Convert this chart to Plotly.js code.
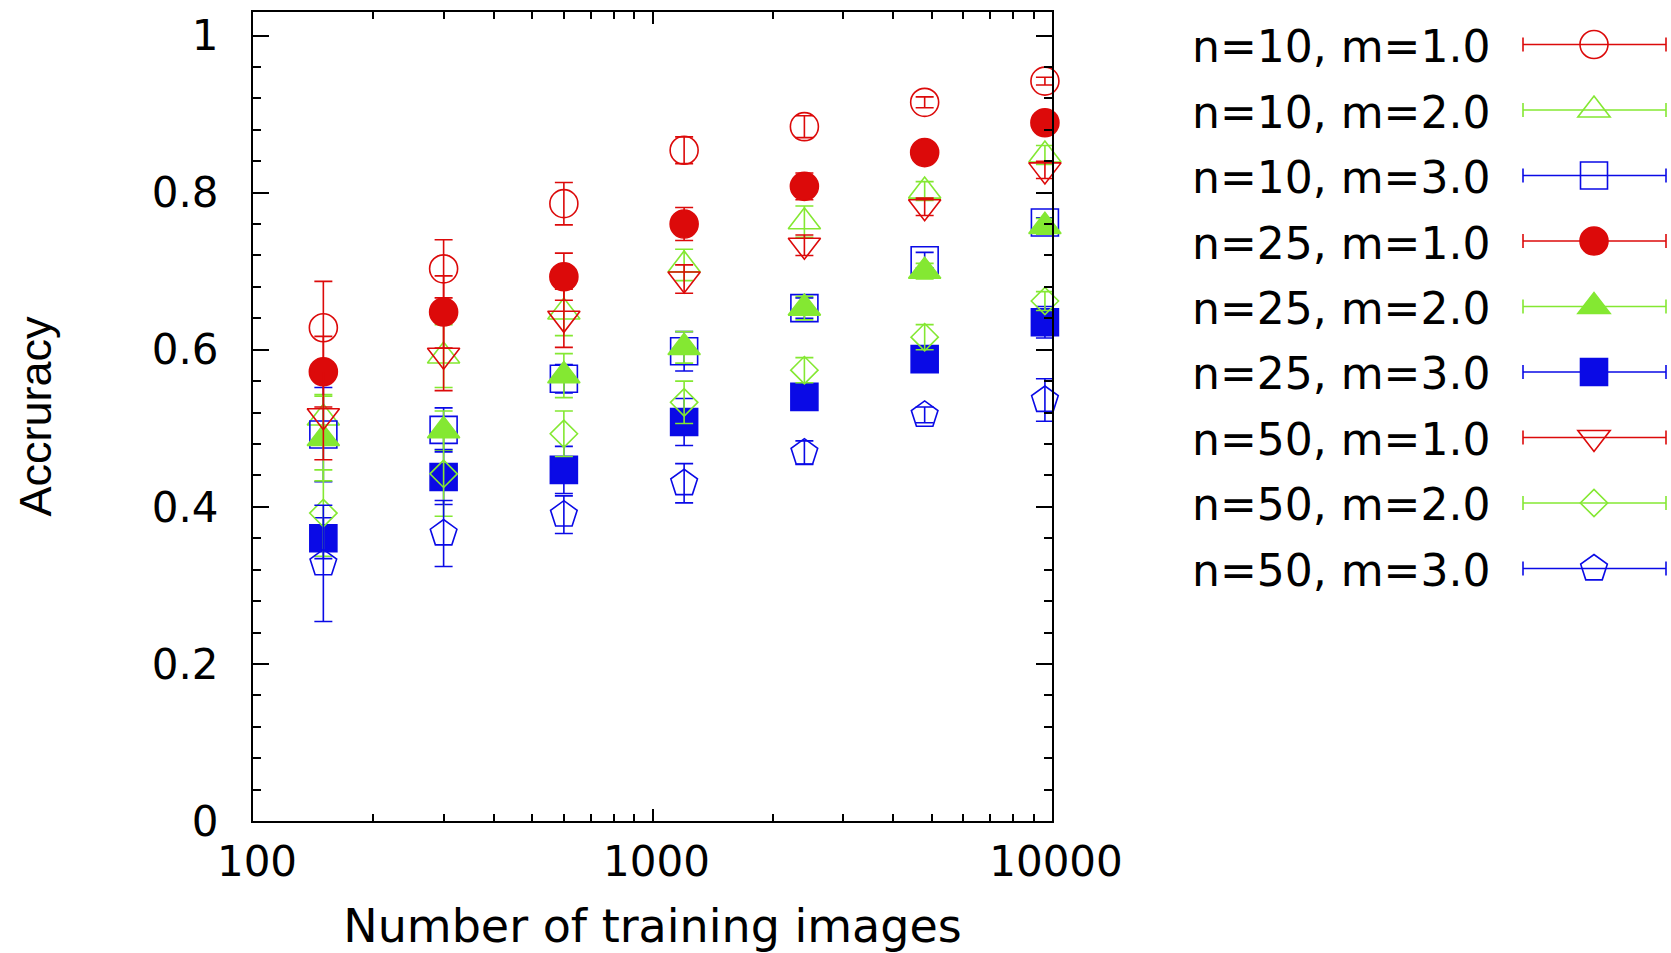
<!DOCTYPE html>
<html>
<head>
<meta charset="utf-8">
<script src="https://cdn.plot.ly/plotly-3.0.1.min.js"></script>
<style>
  html, body { margin: 0; padding: 0; background: #ffffff; }
  #chart { width: 1671px; height: 953px; }
</style>
</head>
<body>
<div id="chart"></div>
<script>
// ---------------- data ----------------
const trainingImages = [150, 300, 600, 1200, 2400, 4800, 9600];

const seriesNames = [
  'n=10, m=1.0', 'n=10, m=2.0', 'n=10, m=3.0',
  'n=25, m=1.0', 'n=25, m=2.0', 'n=25, m=3.0',
  'n=50, m=1.0', 'n=50, m=2.0', 'n=50, m=3.0'
];

const acc_n10_m1 = [0.628, 0.703, 0.786, 0.854, 0.884, 0.915, 0.942];
const err_n10_m1 = [0.059, 0.037, 0.027, 0.017, 0.014, 0.007, 0.005];

const acc_n10_m2 = [0.513, 0.592, 0.648, 0.708, 0.763, 0.802, 0.848];
const err_n10_m2 = [0.030, 0.040, 0.030, 0.020, 0.020, 0.012, 0.012];

const acc_n10_m3 = [0.492, 0.498, 0.563, 0.598, 0.653, 0.714, 0.762];
const err_n10_m3 = [0.060, 0.028, 0.018, 0.025, 0.013, 0.010, 0.006];

const acc_n25_m1 = [0.572, 0.648, 0.693, 0.760, 0.808, 0.851, 0.889];
const err_n25_m1 = [0.045, 0.046, 0.030, 0.021, 0.017, 0.010, 0.008];

const acc_n25_m2 = [0.487, 0.497, 0.567, 0.603, 0.653, 0.700, 0.757];
const err_n25_m2 = [0.054, 0.025, 0.028, 0.020, 0.015, 0.010, 0.010];

const acc_n25_m3 = [0.360, 0.438, 0.447, 0.508, 0.540, 0.588, 0.635];
const err_n25_m3 = [0.026, 0.035, 0.030, 0.030, 0.015, 0.010, 0.020];

const acc_n50_m1 = [0.516, 0.593, 0.640, 0.690, 0.733, 0.782, 0.829];
const err_n50_m1 = [0.056, 0.045, 0.037, 0.018, 0.013, 0.011, 0.011];

const acc_n50_m2 = [0.392, 0.442, 0.493, 0.533, 0.574, 0.616, 0.662];
const err_n50_m2 = [0.055, 0.054, 0.029, 0.027, 0.016, 0.016, 0.012];

const acc_n50_m3 = [0.328, 0.366, 0.390, 0.430, 0.469, 0.517, 0.536];
const err_n50_m3 = [0.074, 0.042, 0.024, 0.025, 0.015, 0.010, 0.027];

const xTickVals = [100, 1000, 10000];
const xTickText = ['100', '1000', '10000'];
const xMinorTicks = [200, 300, 400, 500, 600, 700, 800, 900, 2000, 3000, 4000, 5000, 6000, 7000, 8000, 9000];
const yTickVals = [0, 0.2, 0.4, 0.6, 0.8, 1];
const yTickText = ['0', '0.2', '0.4', '0.6', '0.8', '1'];

// ---------------- styles ----------------
const RED = '#dc0a0a';
const GREEN = '#84e832';
const BLUE = '#0a0ae6';

const series = [
  { y: acc_n10_m1, e: err_n10_m1, color: RED,   symbol: 'circle-open',        size: 28 },
  { y: acc_n10_m2, e: err_n10_m2, color: GREEN, symbol: 'triangle-up-open',   size: 28 },
  { y: acc_n10_m3, e: err_n10_m3, color: BLUE,  symbol: 'square-open',        size: 27 },
  { y: acc_n25_m1, e: err_n25_m1, color: RED,   symbol: 'circle',             size: 28 },
  { y: acc_n25_m2, e: err_n25_m2, color: GREEN, symbol: 'triangle-up',        size: 28 },
  { y: acc_n25_m3, e: err_n25_m3, color: BLUE,  symbol: 'square',             size: 27 },
  { y: acc_n50_m1, e: err_n50_m1, color: RED,   symbol: 'triangle-down-open', size: 28 },
  { y: acc_n50_m2, e: err_n50_m2, color: GREEN, symbol: 'diamond-open',       size: 21 },
  { y: acc_n50_m3, e: err_n50_m3, color: BLUE,  symbol: 'pentagon-open',      size: 28 }
];

const traces = series.map((s, i) => ({
  type: 'scatter',
  mode: 'markers',
  name: seriesNames[i],
  x: trainingImages,
  y: s.y,
  showlegend: false,
  cliponaxis: false,
  marker: { symbol: s.symbol, size: s.size, color: s.color, line: { color: s.color, width: 1.6 } },
  error_y: { type: 'data', array: s.e, visible: true, color: s.color, thickness: 1.6, width: 9 }
}));

// ---------------- plot box (px) ----------------
const L = 253, R = 1052, T = 12, B = 821;
const W = R - L, H = B - T;
const pxX = v => (v - L) / W;
const pxY = v => (B - v) / H;

// ---------------- custom legend (text left, sample right) ----------------
const annotations = [];
const shapes = [];
const legTextX = 1190, legLineX0 = 1523, legLineX1 = 1666, legMarkX = 1594;
const legRow0 = 44.5, legStep = 65.5;

function markerPath(sym, cx, cy, size) {
  const r = size / 2;
  let pts;
  if (sym.startsWith('triangle-up')) {
    const rt = r * 2 / Math.sqrt(3);
    pts = [[cx - rt, cy + r / 2], [cx + rt, cy + r / 2], [cx, cy - r]];
  } else if (sym.startsWith('triangle-down')) {
    const rt = r * 2 / Math.sqrt(3);
    pts = [[cx - rt, cy - r / 2], [cx + rt, cy - r / 2], [cx, cy + r]];
  } else if (sym.startsWith('diamond')) {
    const rd = r * 1.3;
    pts = [[cx + rd, cy], [cx, cy + rd], [cx - rd, cy], [cx, cy - rd]];
  } else if (sym.startsWith('pentagon')) {
    pts = [[cx + 0.951 * r, cy - 0.309 * r], [cx + 0.588 * r, cy + 0.809 * r],
           [cx - 0.588 * r, cy + 0.809 * r], [cx - 0.951 * r, cy - 0.309 * r], [cx, cy - r]];
  }
  return 'M' + pts.map(p => pxX(p[0]).toFixed(5) + ',' + pxY(p[1]).toFixed(5)).join('L') + 'Z';
}

series.forEach((s, i) => {
  const yRow = legRow0 + i * legStep;
  annotations.push({
    xref: 'paper', yref: 'paper', x: pxX(legTextX), y: pxY(yRow + 2),
    xanchor: 'left', yanchor: 'middle', showarrow: false,
    text: seriesNames[i],
    font: { family: 'DejaVu Sans, Liberation Sans, sans-serif', size: 44, color: '#000000' }
  });
  const ln = { color: s.color, width: 1.6 };
  shapes.push({ type: 'line', xref: 'paper', yref: 'paper', x0: pxX(legLineX0), x1: pxX(legLineX1), y0: pxY(yRow), y1: pxY(yRow), line: ln });
  shapes.push({ type: 'line', xref: 'paper', yref: 'paper', x0: pxX(legLineX0), x1: pxX(legLineX0), y0: pxY(yRow - 7), y1: pxY(yRow + 7), line: ln });
  shapes.push({ type: 'line', xref: 'paper', yref: 'paper', x0: pxX(legLineX1), x1: pxX(legLineX1), y0: pxY(yRow - 7), y1: pxY(yRow + 7), line: ln });
  const filled = !s.symbol.endsWith('-open');
  const fill = filled ? s.color : 'rgba(0,0,0,0)';
  const mline = { color: s.color, width: 1.6 };
  const r = s.size / 2;
  if (s.symbol.startsWith('circle')) {
    shapes.push({ type: 'circle', xref: 'paper', yref: 'paper',
      x0: pxX(legMarkX - r), x1: pxX(legMarkX + r), y0: pxY(yRow + r), y1: pxY(yRow - r),
      fillcolor: fill, line: mline });
  } else if (s.symbol.startsWith('square')) {
    shapes.push({ type: 'rect', xref: 'paper', yref: 'paper',
      x0: pxX(legMarkX - r), x1: pxX(legMarkX + r), y0: pxY(yRow + r), y1: pxY(yRow - r),
      fillcolor: fill, line: mline });
  } else {
    shapes.push({ type: 'path', xref: 'paper', yref: 'paper',
      path: markerPath(s.symbol, legMarkX, yRow, s.size), fillcolor: fill, line: mline });
  }
});

const tickFont = { family: 'DejaVu Sans, Liberation Sans, sans-serif', size: 42, color: '#000000' };

const layout = {
  width: 1671,
  height: 953,
  margin: { l: L, r: 1671 - R, t: T, b: 953 - B, pad: 0 },
  paper_bgcolor: '#ffffff',
  plot_bgcolor: '#ffffff',
  showlegend: false,
  xaxis: {
    type: 'log',
    range: [2, 4],
    tickmode: 'array',
    tickvals: xTickVals,
    ticktext: xTickText,
    ticks: 'inside',
    ticklen: 12,
    tickwidth: 2,
    tickcolor: '#000000',
    showline: true,
    linewidth: 2,
    linecolor: '#000000',
    mirror: 'allticks',
    showgrid: false,
    zeroline: false,
    tickfont: tickFont,
    ticklabelstandoff: 3,
    ticklabelshift: 4,
    minor: { tickmode: 'array', tickvals: xMinorTicks, ticks: 'inside', ticklen: 7, tickwidth: 2, tickcolor: '#000000', showgrid: false },
    title: { text: 'Number of training images', standoff: 28,
             font: { family: 'DejaVu Sans, Liberation Sans, sans-serif', size: 46, color: '#000000' } }
  },
  yaxis: {
    range: [0, 1.03],
    tickmode: 'array',
    tickvals: yTickVals,
    ticktext: yTickText,
    ticks: 'inside',
    ticklen: 16,
    tickwidth: 2,
    tickcolor: '#000000',
    showline: true,
    linewidth: 2,
    linecolor: '#000000',
    mirror: 'allticks',
    showgrid: false,
    zeroline: false,
    tickfont: tickFont,
    ticklabelstandoff: 24,
    minor: { dtick: 0.04, tick0: 0, ticks: 'inside', ticklen: 8, tickwidth: 2, tickcolor: '#000000', showgrid: false },
    title: { text: 'Accruracy', standoff: 86,
             font: { family: 'Liberation Sans, Arial, sans-serif', size: 45, color: '#000000' } }
  },
  annotations: annotations,
  shapes: shapes
};

Plotly.newPlot('chart', traces, layout, { staticPlot: true, displayModeBar: false });
</script>
</body>
</html>
